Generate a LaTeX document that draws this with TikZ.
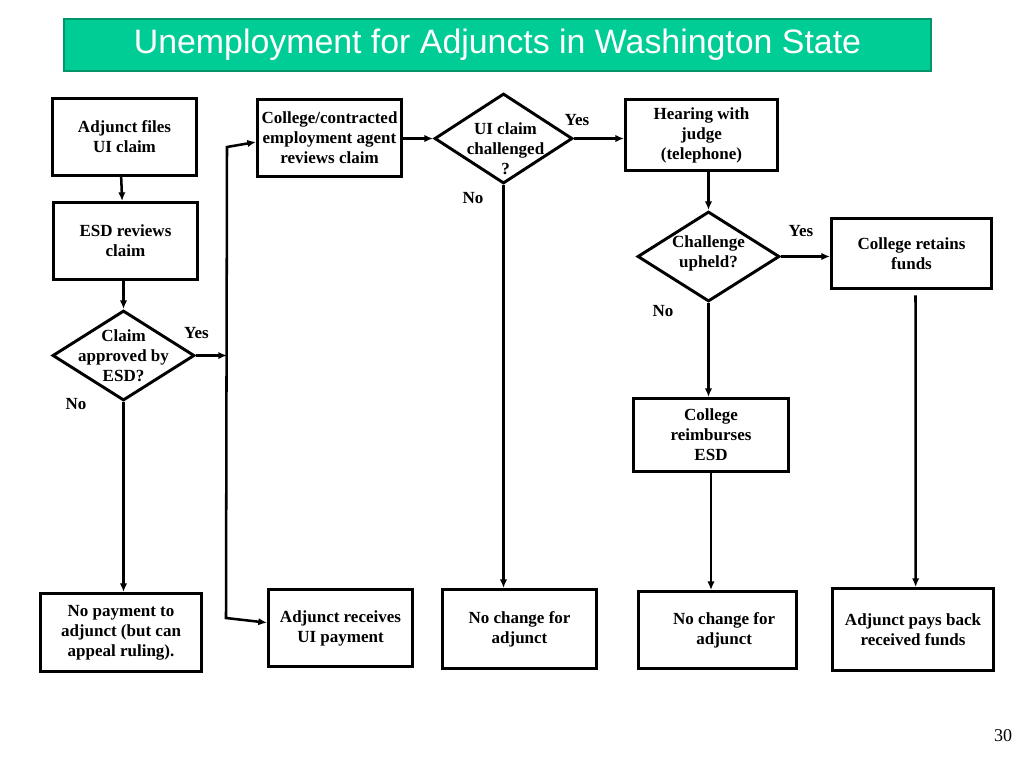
\documentclass[tikz,border=0pt]{standalone}
\usepackage{fontspec}
\setmainfont{Liberation Serif}
\newfontfamily\titlefont{Liberation Sans}
\usetikzlibrary{arrows.meta,shapes.geometric}
\definecolor{titlegreen}{RGB}{0,204,150}
\definecolor{titleborder}{RGB}{0,150,105}
\begin{document}
\begin{tikzpicture}[x=0.75pt,y=-0.75pt,
  sz/.style 2 args={minimum width={#1*0.75pt}, minimum height={#2*0.75pt}},
  txt/.style={font=\bfseries\fontsize{12.75}{15}\selectfont, align=center},
  box/.style={draw, line width=2.2pt, inner sep=0pt, txt},
  dia/.style={draw, diamond, line width=2.2pt, inner sep=0pt},
  conn/.style={line width=1.9pt},
  arr/.style={conn, -{Latex[length=6.5pt,width=5.5pt]}},
  twoarr/.style={conn, {Latex[length=6.5pt,width=5.5pt]}-{Latex[length=6.5pt,width=5.5pt]}},
]
\useasboundingbox (0,0) rectangle (1024,768);

% title
\node[draw=titleborder, fill=titlegreen, line width=1.5pt, sz={867}{52}, text=white,
      font=\titlefont\fontsize{25.4}{30}\selectfont] (title) at (497.5,45)
      {Unemployment for Adjuncts in Washington State};

% boxes
\node[box, sz={144}{77}] (A) at (124.5,137) {Adjunct files\\UI claim};
\node[box, sz={144}{77}] (B) at (125.5,241) {ESD reviews\\claim};
\node[box, sz={144}{77}] (C) at (329.5,138) {College/contracted\\employment agent\\reviews claim};
\node[box, sz={152}{71}] (E) at (701.5,135) {Hearing with\\judge\\(telephone)};
\node[box, sz={160}{70}] (F) at (911.5,253.5) {College retains\\funds};
\node[box, sz={155}{73}] (G) at (711,435) {College\\reimburses\\ESD};
\node[box, sz={161}{78}] (H) at (121,632.5) {No payment to\\adjunct (but can\\appeal ruling).};
\node[box, sz={144}{77}] (I) at (340.5,628) {Adjunct receives\\UI payment};
\node[box, sz={154}{79}] (J) at (519.5,629) {No change for\\adjunct};
\node[box, sz={158}{77}, label={[txt, xshift=5pt]center:No change for\\adjunct}] (K) at (717.5,630) {};
\node[box, sz={161}{82}] (L) at (913,629.5) {Adjunct pays back\\received funds};

% decisions
\node[dia, sz={142}{90}, label={[txt]center:Claim\\approved by\\ESD?}] (D1) at (123.5,355.5) {};
\node[dia, sz={138}{90}, label={[txt, yshift=-7.5pt, xshift=1.5pt]center:UI claim\\challenged\\?}] (D2) at (503.5,138.5) {};
\node[dia, sz={142}{90}, label={[txt, yshift=2.5pt]center:Challenge\\upheld?}] (D3) at (708.5,256.5) {};

% yes / no labels
\node[txt] (y1) at (196.5,333) {Yes};
\node[txt] (n1) at (76,404) {No};
\node[txt] (y2) at (577,120.5) {Yes};
\node[txt] (n2) at (473,198.5) {No};
\node[txt] (y3) at (801,231) {Yes};
\node[txt] (n3) at (663,311) {No};

% page number
\node[font=\fontsize{13.5}{16}\selectfont] (pg) at (1003,736) {30};

% connectors
\coordinate (vtop) at (227,147);
\coordinate (vbot) at (226,618);
\draw[arr] ([xshift=-2.5pt]A.south) -- ([xshift=-2.5pt]B.north);
\draw[arr] (B.south -| D1.north) -- (D1.north);
\draw[arr] (D1.east) -- (D1.east -| vtop);
\draw[twoarr] ([yshift=-3pt]C.west) -- (vtop) -- (vbot) -- ([yshift=4pt]I.west);
\draw[arr] (D1.south) -- (D1.south |- H.north);
\draw[arr] (C.east |- D2.west) -- (D2.west);
\draw[arr] (D2.east) -- (D2.east -| E.west);
\draw[arr] (D2.south) -- (D2.south |- J.north);
\draw[arr] (E.south -| D3.north) -- (D3.north);
\draw[arr] (D3.east) -- (D3.east -| F.west);
\draw[arr] (D3.south) -- (D3.south |- G.north);
\draw[arr] (G.south) -- (G.south |- K.north);
\draw[arr] ([xshift=3pt,yshift=-4pt]F.south) -- ([xshift=2pt]L.north);
\end{tikzpicture}
\end{document}
